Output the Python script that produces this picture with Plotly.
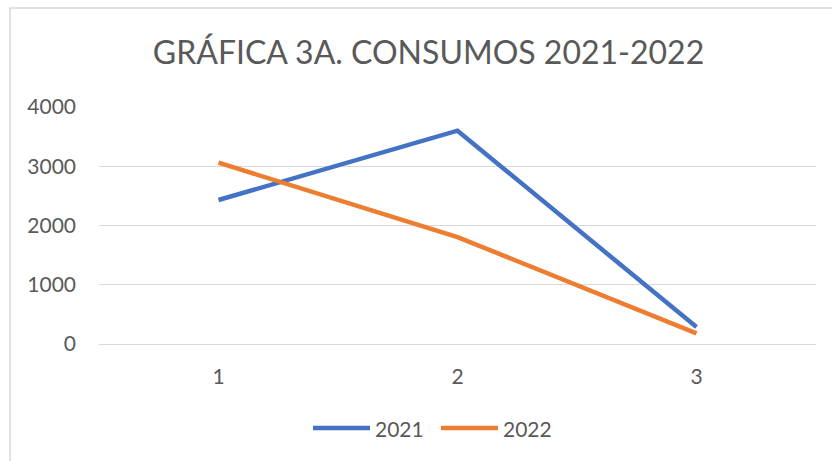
import plotly.graph_objects as go

categories = [1, 2, 3]
series_names = ["2021", "2022"]
series_2021 = [2430, 3600, 285]
series_2022 = [3060, 1805, 180]
y_ticks = [0, 1000, 2000, 3000, 4000]
title_text = "GRÁFICA 3A. CONSUMOS 2021-2022"
colors = ["#4472C4", "#ED7D31"]

W, H = 832, 461
L, R, T, B = 99, 16, 107, 117
pw, ph = W - L - R, H - T - B

def px_x(p):
    return (p - L) / pw

def px_y(p):
    return (H - B - p) / ph

font_fam = "Lato, 'Open Sans', sans-serif"
txt_col = "#595959"

fig = go.Figure()
for name, vals, col in zip(series_names, [series_2021, series_2022], colors):
    fig.add_trace(go.Scatter(x=categories, y=vals, mode="lines", name=name,
                             line=dict(color=col, width=4.5), showlegend=False))

# manual legend (Excel-style long line samples)
shapes = [dict(type="rect", xref="paper", yref="paper",
               x0=px_x(10), x1=px_x(900), y0=px_y(600), y1=px_y(8),
               line=dict(color="#D9D9D9", width=1.5), fillcolor="rgba(0,0,0,0)", layer="below")]
annotations = []
leg_y = 428
leg_starts = [313, 441]
for name, col, x0 in zip(series_names, colors, leg_starts):
    shapes.append(dict(type="line", xref="paper", yref="paper",
                       x0=px_x(x0), x1=px_x(x0 + 57), y0=px_y(leg_y), y1=px_y(leg_y),
                       line=dict(color=col, width=4.5)))
    annotations.append(dict(text=name, xref="paper", yref="paper", x=px_x(x0 + 60), y=px_y(leg_y),
                            xanchor="left", yanchor="middle", showarrow=False,
                            font=dict(size=21, color=txt_col, family=font_fam)))

fig.update_layout(
    width=W, height=H,
    margin=dict(l=L, r=R, t=T, b=B),
    paper_bgcolor="white", plot_bgcolor="white",
    font=dict(family=font_fam, color=txt_col, size=21),
    title=dict(text=title_text, x=428.5 / W, xref="container", xanchor="center",
               y=1 - 53 / H, yref="container", yanchor="middle",
               font=dict(size=32, color=txt_col, family=font_fam)),
    showlegend=False,
    xaxis=dict(range=[0.5, 3.5], tickvals=categories, ticktext=[str(c) for c in categories],
               showgrid=False, zeroline=False, showline=False, ticks="",
               ticklabelstandoff=18, fixedrange=True),
    yaxis=dict(range=[0, 4000], tickvals=y_ticks, ticktext=[str(v) for v in y_ticks],
               showgrid=True, gridcolor="#D9D9D9", gridwidth=1, zeroline=True,
               zerolinecolor="#D9D9D9", zerolinewidth=1, showline=False, ticks="",
               ticklabelstandoff=22, fixedrange=True),
    shapes=shapes,
    annotations=annotations,
)

fig.write_html("out.html", config={"displayModeBar": False},
               post_script="document.body.style.margin='0';document.body.style.overflow='hidden';")
